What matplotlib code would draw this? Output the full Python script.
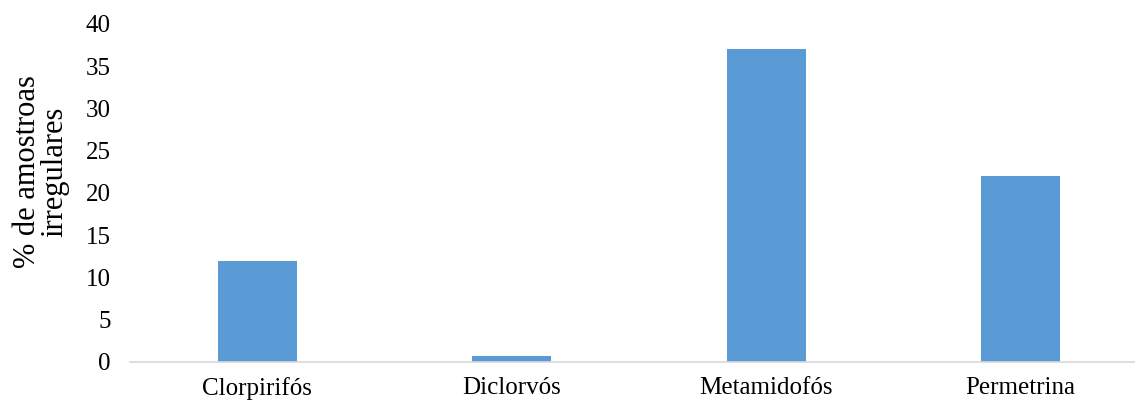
import matplotlib.pyplot as plt

categorias = ["Clorpirifós", "Diclorvós", "Metamidofós", "Permetrina"]
percentuais = [12, 0.7, 37, 22]
yticks = [0, 5, 10, 15, 20, 25, 30, 35, 40]


def main():
    plt.rcParams["font.family"] = ["Liberation Serif", "DejaVu Serif"]

    fig = plt.figure(figsize=(11.35, 4.0), dpi=100)
    ax = fig.add_axes([130 / 1135, 38 / 400, 1 - 130 / 1135, 338 / 400])

    x = range(len(categorias))
    ax.bar(x, percentuais, width=0.31, color="#5B9BD5", zorder=2)

    ax.set_xlim(-0.5, 3.45)
    ax.set_ylim(0, 40)
    ax.set_yticks(yticks)
    ax.set_xticks(list(x))
    ax.set_xticklabels(categorias)
    ax.tick_params(axis="both", length=0, labelsize=18)
    ax.tick_params(axis="y", pad=14)
    ax.tick_params(axis="x", pad=10.5)

    for s in ["top", "right", "left"]:
        ax.spines[s].set_visible(False)
    ax.spines["bottom"].set_color("#D9D9D9")
    ax.spines["bottom"].set_linewidth(1.2)

    # rotulo do eixo y um pouco acima do centro, como no original
    fig.text(41 / 1135, 0.57, "% de amostroas\nirregulares", rotation=90,
             fontsize=22, linespacing=0.95, ha="center", va="center",
             multialignment="center")

    fig.savefig("out.png", dpi=100)


if __name__ == "__main__":
    main()
